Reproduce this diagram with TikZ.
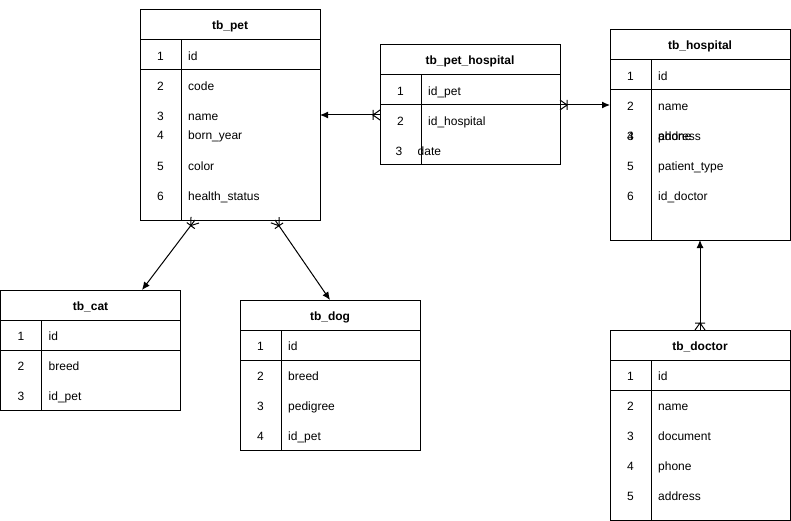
\documentclass[tikz,border=0pt]{standalone}
\usepackage{fontspec}
\setmainfont{Liberation Sans}
\usetikzlibrary{arrows.meta,calc}
\pgfdeclarearrow{
  name = crowone,
  setup code = {
    \pgfarrowssettipend{0pt}
    \pgfarrowssetlineend{0pt}
    \pgfarrowssetbackend{-7pt}
    \pgfarrowssetvisualbackend{-7pt}
    \pgfarrowshullpoint{0pt}{5pt}
    \pgfarrowshullpoint{0pt}{-5pt}
    \pgfarrowshullpoint{-7pt}{5pt}
    \pgfarrowshullpoint{-7pt}{-5pt}
  },
  drawing code = {
    \pgfsetdash{}{0pt}
    \pgfpathmoveto{\pgfqpoint{0pt}{5pt}}
    \pgfpathlineto{\pgfqpoint{-7pt}{0pt}}
    \pgfpathlineto{\pgfqpoint{0pt}{-5pt}}
    \pgfpathmoveto{\pgfqpoint{-7pt}{5pt}}
    \pgfpathlineto{\pgfqpoint{-7pt}{-5pt}}
    \pgfusepathqstroke
  }
}
\tikzset{
  tbl/.style={draw=black, line width=1pt, fill=white, minimum width=180pt, inner sep=0pt, outer sep=0pt},
  tline/.style={draw=black, line width=1pt},
  ttl/.style={font=\fontsize{12pt}{14pt}\selectfont\bfseries, anchor=base, inner sep=0pt},
  numtxt/.style={font=\fontsize{12pt}{14pt}\selectfont, anchor=base, inner sep=0pt},
  fldtxt/.style={font=\fontsize{12pt}{14pt}\selectfont, anchor=base west, inner sep=0pt},
  rel/.style={line width=1pt, draw=black, crowone-{Latex[length=8pt,width=7pt]}}
}
% #1 name, #2 x, #3 y, #4 height, #5 title
\newcommand\erTable[5]{%
  \node[tbl, minimum height=#4pt, anchor=north west] (#1) at (#2,#3) {};
  \draw[tline] (#2,#3+30) -- (#2+180,#3+30);
  \draw[tline] (#2,#3+60) -- (#2+180,#3+60);
  \draw[tline] (#2+41,#3+30) -- (#2+41,#3+#4);
  \node[ttl] (#1-t) at (#2+90,#3+20) {#5};}
% #1 prefix, #2 index, #3 num x, #4 field x, #5 y, #6 num, #7 text
\newcommand\erRow[7]{%
  \node[numtxt] (#1-n#2) at (#3,#5+5.5) {#6};
  \node[fldtxt] (#1-f#2) at (#4,#5+5.5) {#7};}
\begin{document}
\begin{tikzpicture}[x=1pt,y=-1pt]
\useasboundingbox[fill=white] (0,0) rectangle (791,521);

% tb_pet
\erTable{pet}{140}{10}{210}{tb\_pet}
\erRow{pet}{1}{160.5}{188}{55}{1}{id}
\erRow{pet}{2}{160.5}{188}{85}{2}{code}
\erRow{pet}{3}{160.5}{188}{115}{3}{name}
\erRow{pet}{4}{160.5}{188}{134}{4}{born\_year}
\erRow{pet}{5}{160.5}{188}{165}{5}{color}
\erRow{pet}{6}{160.5}{188}{195}{6}{health\_status}

% tb_pet_hospital
\erTable{ph}{380}{45}{120}{tb\_pet\_hospital}
\erRow{ph}{1}{400.5}{428}{90}{1}{id\_pet}
\erRow{ph}{2}{400.5}{428}{120}{2}{id\_hospital}
\erRow{ph}{3}{399}{417.5}{150}{3}{date}

% tb_hospital
\erTable{hosp}{610}{30}{210}{tb\_hospital}
\erRow{hosp}{1}{630.5}{658}{75}{1}{id}
\erRow{hosp}{2}{630.5}{658}{105}{2}{name}
\erRow{hosp}{3}{630.5}{658}{135}{3}{address}
\erRow{hosp}{4}{630.5}{658}{135}{4}{phone}
\erRow{hosp}{5}{630.5}{658}{165}{5}{patient\_type}
\erRow{hosp}{6}{630.5}{658}{195}{6}{id\_doctor}

% tb_cat
\erTable{cat}{0.5}{290}{120}{tb\_cat}
\erRow{cat}{1}{21}{48.5}{335}{1}{id}
\erRow{cat}{2}{21}{48.5}{365}{2}{breed}
\erRow{cat}{3}{21}{48.5}{395}{3}{id\_pet}

% tb_dog
\erTable{dog}{240}{300}{150}{tb\_dog}
\erRow{dog}{1}{260.5}{288}{345}{1}{id}
\erRow{dog}{2}{260.5}{288}{375}{2}{breed}
\erRow{dog}{3}{260.5}{288}{405}{3}{pedigree}
\erRow{dog}{4}{260.5}{288}{435}{4}{id\_pet}

% tb_doctor
\erTable{doc}{610}{330}{190}{tb\_doctor}
\erRow{doc}{1}{630.5}{658}{375}{1}{id}
\erRow{doc}{2}{630.5}{658}{405}{2}{name}
\erRow{doc}{3}{630.5}{658}{435}{3}{document}
\erRow{doc}{4}{630.5}{658}{465}{4}{phone}
\erRow{doc}{5}{630.5}{658}{495}{5}{address}

% relations
\draw[rel] (ph.west |- pet.east) -- (pet.east);
\draw[rel] (ph.east) -- (hosp.west |- ph.east);
\draw[rel] ([xshift=-35pt]pet.south) -- ([xshift=51.5pt]cat.north);
\draw[rel] ([xshift=45pt]pet.south) -- (dog.north);
\draw[rel] (doc.north) -- (hosp.south);
\end{tikzpicture}
\end{document}
